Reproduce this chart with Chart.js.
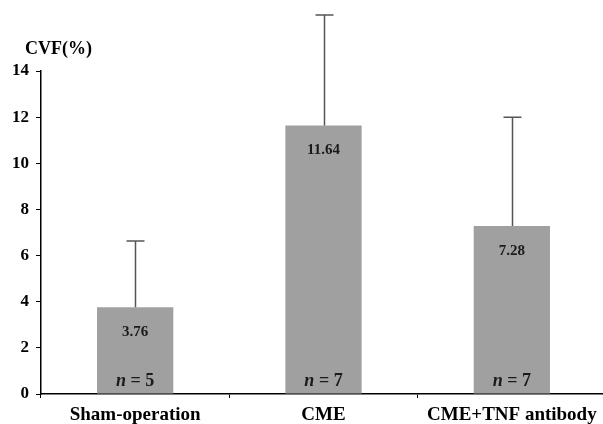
<!DOCTYPE html>
<html>
<head>
<meta charset="utf-8">
<script src="https://cdn.jsdelivr.net/npm/chart.js@4"></script>
<style>
html,body{margin:0;padding:0;background:#fff;overflow:hidden;}
#wrap{width:606px;height:424px;position:relative;}
</style>
</head>
<body>
<div id="wrap"><canvas id="c"></canvas></div>
<script>
const categories = ['Sham-operation', 'CME', 'CME+TNF antibody'];
const meanValues = [3.76, 11.64, 7.28];
const errorTops = [6.63, 16.43, 12.0];
const sampleSizes = [5, 7, 7];
const yAxisTitle = 'CVF(%)';
const yMin = 0, yMax = 14, yStep = 2;

const FONT = "'Liberation Serif', 'Times New Roman', serif";

const annotate = {
  id: 'annotate',
  afterDatasetsDraw(chart) {
    const ctx = chart.ctx;
    const meta = chart.getDatasetMeta(0);
    const y = chart.scales.y;
    ctx.save();
    // error bars
    ctx.strokeStyle = '#555';
    ctx.lineWidth = 1.5;
    meta.data.forEach((bar, i) => {
      const x = Math.round(bar.x) + 0.5;
      const top = y.getPixelForValue(errorTops[i]);
      ctx.beginPath();
      ctx.moveTo(x, bar.y);
      ctx.lineTo(x, top);
      ctx.moveTo(x - 9, top);
      ctx.lineTo(x + 9, top);
      ctx.stroke();
    });
    // value labels and n labels
    ctx.fillStyle = '#1a1a1a';
    ctx.textBaseline = 'middle';
    meta.data.forEach((bar, i) => {
      ctx.textAlign = 'center';
      ctx.font = 'bold 15px ' + FONT;
      ctx.fillText(meanValues[i].toFixed(2), bar.x, bar.y + 25);
      // n = k
      const base = y.getPixelForValue(0) - 13;
      ctx.font = 'italic bold 18px ' + FONT;
      const nW = ctx.measureText('n').width;
      ctx.font = 'bold 18px ' + FONT;
      const rest = ' = ' + sampleSizes[i];
      const rW = ctx.measureText(rest).width;
      const startX = bar.x - (nW + rW) / 2;
      ctx.textAlign = 'left';
      ctx.font = 'italic bold 18px ' + FONT;
      ctx.fillText('n', startX, base);
      ctx.font = 'bold 18px ' + FONT;
      ctx.fillText(rest, startX + nW, base);
    });
    // axis title
    ctx.fillStyle = '#000';
    ctx.textAlign = 'left';
    ctx.font = 'bold 18px ' + FONT;
    ctx.fillText(yAxisTitle, 25, 49);
    ctx.restore();
  }
};

new Chart(document.getElementById('c'), {
  type: 'bar',
  data: {
    labels: categories,
    datasets: [{
      data: meanValues,
      backgroundColor: '#a0a0a0',
      borderWidth: 0,
      categoryPercentage: 1.0,
      barPercentage: 0.405
    }]
  },
  options: {
    responsive: true,
    maintainAspectRatio: false,
    animation: false,
    devicePixelRatio: 1,
    layout: { padding: { top: 71, left: 0, right: 0, bottom: 0 } },
    plugins: { legend: { display: false }, tooltip: { enabled: false } },
    scales: {
      x: {
        offset: true,
        afterFit(s) { s.height = 30; },
        grid: { display: true, drawOnChartArea: false, drawTicks: true, tickLength: 4, offset: true, color: '#000', lineWidth: 1 },
        border: { display: true, color: '#000', width: 1.5 },
        ticks: { color: '#000', padding: 6, font: { family: FONT, size: 19, weight: 'bold' }, maxRotation: 0, autoSkip: false }
      },
      y: {
        min: yMin, max: yMax,
        afterFit(s) { s.width = 41; },
        grid: { display: true, drawOnChartArea: false, drawTicks: true, tickLength: 5, color: '#000', lineWidth: 1 },
        border: { display: true, color: '#000', width: 1.5 },
        ticks: { stepSize: yStep, color: '#000', padding: 7, font: { family: FONT, size: 17, weight: 'bold' } }
      }
    }
  },
  plugins: [annotate]
});
</script>
</body>
</html>
